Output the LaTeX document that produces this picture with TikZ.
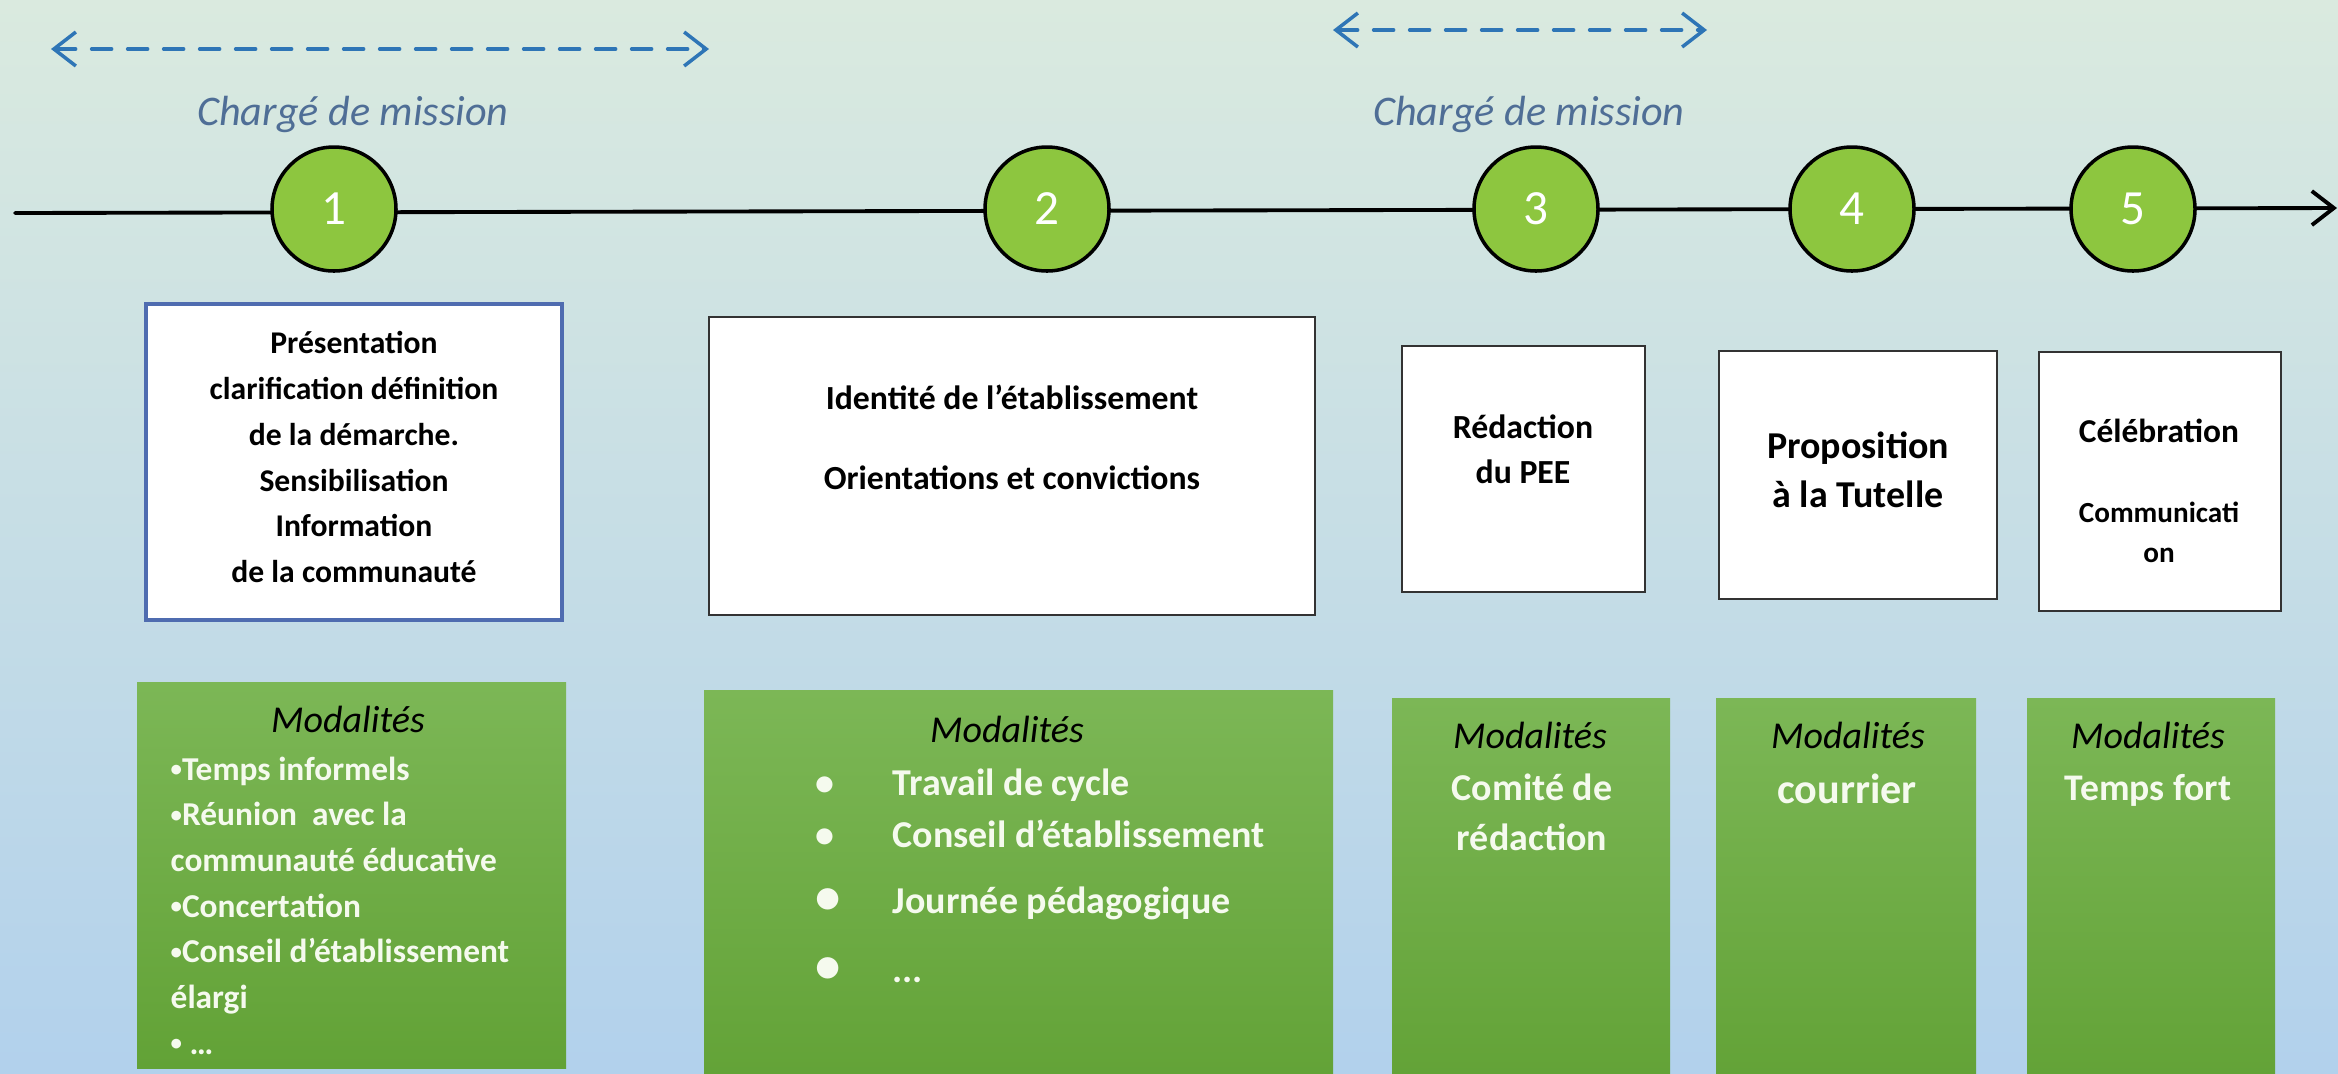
\documentclass[tikz,border=0pt]{standalone}
\usepackage{fontspec}
\setmainfont{Carlito}
\usepackage{tikz}
\usetikzlibrary{calc, arrows.meta}
\usepackage{tkz-euclide}
\definecolor{fondhaut}{RGB}{218,234,223}
\definecolor{fondbas}{RGB}{178,209,236}
\definecolor{vertrond}{RGB}{141,198,63}
\definecolor{verthaut}{RGB}{124,183,86}
\definecolor{vertbas}{RGB}{98,162,54}
\definecolor{bleutrait}{RGB}{46,117,182}
\definecolor{bleutexte}{RGB}{79,110,150}
\definecolor{bleucadre}{RGB}{79,108,176}
\definecolor{blanccasse}{RGB}{245,250,238}
\newcommand{\petitepuce}{\raisebox{1pt}{\fontsize{6.5}{6.5}\selectfont •}}

\begin{document}
\begin{tikzpicture}[
                fleche/.style={bleutrait, line width=1pt, dash pattern=on 2mm off 1.6mm,
                    {Straight Barb[length=2.2mm,width=3.4mm]}-{Straight Barb[length=2.2mm,width=3.4mm]}},
                axe/.style={black, line width=1.1pt, -{Straight Barb[length=2.2mm,width=3.4mm]}},
                titre/.style={anchor=base, text=bleutexte, font=\fontsize{12}{14}\selectfont\itshape},
                etape/.style={circle, draw=black, line width=1pt, fill=vertrond, minimum size=1.24cm,
                    inner sep=0pt, text=white, font=\fontsize{14}{16}\selectfont},
                cadre/.style={draw=black!80, line width=0.8pt, fill=white, inner sep=0pt},
                noir/.style={inner sep=0pt, align=center, text=black},
                vert/.style={top color=verthaut, bottom color=vertbas, draw=none, inner sep=0pt},
                modal/.style={anchor=base, inner sep=0pt, text=black, font=\fontsize{10.8}{13}\selectfont\itshape},
                blanc/.style={inner sep=0pt, text=blanccasse}
            ]
                \useasboundingbox (0,0) rectangle (23.38,-10.73);
                \clip (0,0) rectangle (23.38,-10.73);
                \shade[top color=fondhaut, bottom color=fondbas] (0,0) rectangle (23.38,-10.73);
                \tkzDefPoints{0.51/-0.49/A, 7.09/-0.49/B, 13.33/-0.30/C, 17.07/-0.30/D, 0.15/-2.13/E, 23.37/-2.08/F}
                \tkzDrawSegments[fleche](A,B C,D)
                \node[titre] (cm1) at (3.53,-1.25) {Chargé de mission};
                \node[titre] (cm2) at (15.29,-1.25) {Chargé de mission};
                \tkzDrawSegment[axe](E,F)
                \node[etape] (e1) at (3.34,-2.09) {1};
                \node[etape] (e2) at (10.47,-2.09) {2};
                \node[etape] (e3) at (15.36,-2.09) {3};
                \node[etape] (e4) at (18.52,-2.09) {4};
                \node[etape] (e5) at (21.33,-2.09) {5};
                \node[cadre, draw=bleucadre, line width=1pt, minimum width=4.16cm, minimum height=3.16cm] (b1) at (3.54,-4.62) {};
                \node[cadre, minimum width=6.06cm, minimum height=2.98cm] (b2) at (10.12,-4.66) {};
                \node[cadre, minimum width=2.43cm, minimum height=2.46cm] (b3) at (15.235,-4.69) {};
                \node[cadre, minimum width=2.78cm, minimum height=2.48cm] (b4) at (18.58,-4.75) {};
                \node[cadre, minimum width=2.42cm, minimum height=2.59cm] (b5) at (21.60,-4.815) {};
                \node[noir, anchor=north, font=\fontsize{9}{13}\selectfont\bfseries] (t1) at (3.54,-3.31)
                    {Présentation\\clarification définition\\de la démarche.\\Sensibilisation\\Information\\de la communauté};
                \node[noir, anchor=north, font=\fontsize{9.6}{22.8}\selectfont\bfseries] (t2) at (10.12,-3.84)
                    {Identité de l’établissement\\Orientations et convictions};
                \node[noir, anchor=north, font=\fontsize{9.6}{12.8}\selectfont\bfseries] (t3) at (15.23,-4.14) {Rédaction\\du PEE};
                \node[noir, anchor=north, font=\fontsize{10.8}{14}\selectfont\bfseries] (t4) at (18.58,-4.31) {Proposition\\à la Tutelle};
                \node[noir, anchor=base, font=\fontsize{9.5}{12}\selectfont\bfseries] (t5a) at (21.59,-4.42) {Célébration};
                \node[noir, anchor=north, font=\fontsize{8.3}{11.4}\selectfont\bfseries] (t5b) at (21.59,-5.01) {Communicati\\on};
                \node[vert, minimum width=4.29cm, minimum height=3.86cm] (g1) at (3.515,-8.75) {};
                \node[vert, minimum width=6.29cm, minimum height=4.0cm] (g2) at (10.185,-8.90) {};
                \node[vert, minimum width=2.78cm, minimum height=3.92cm] (g3) at (15.31,-8.94) {};
                \node[vert, minimum width=2.60cm, minimum height=3.92cm] (g4) at (18.46,-8.94) {};
                \node[vert, minimum width=2.48cm, minimum height=3.92cm] (g5) at (21.51,-8.94) {};
                \node[modal] (m1) at (3.48,-7.32) {Modalités};
                \node[modal] (m2) at (10.07,-7.42) {Modalités};
                \node[modal] (m3) at (15.30,-7.48) {Modalités};
                \node[modal] (m4) at (18.48,-7.48) {Modalités};
                \node[modal] (m5) at (21.48,-7.48) {Modalités};
                \node[blanc, anchor=north west, align=left, font=\fontsize{9.5}{13}\selectfont\bfseries] (i1) at (1.70,-7.56)
                    {\petitepuce Temps informels\\\petitepuce Réunion\ \ avec la\\communauté éducative\\\petitepuce Concertation\\\petitepuce Conseil d’établissement\\élargi\\\petitepuce\ …};
                \node[blanc, anchor=north west, align=left, font=\fontsize{10.8}{14.8}\selectfont\bfseries] (i2) at (8.15,-7.68)
                    {\makebox[7.7mm][l]{•}Travail de cycle\\\makebox[7.7mm][l]{•}Conseil d’établissement\\[4pt]\makebox[7.7mm][l]{\Large •}Journée pédagogique\\[4.8pt]\makebox[7.7mm][l]{\Large •}...};
                \node[blanc, anchor=north, align=center, font=\fontsize{10.8}{14.2}\selectfont\bfseries] (i3) at (15.32,-7.73) {Comité de\\rédaction};
                \node[blanc, anchor=base, font=\fontsize{12}{14}\selectfont\bfseries] (i4) at (18.47,-8.03) {courrier};
                \node[blanc, anchor=base, font=\fontsize{10.7}{13}\selectfont\bfseries] (i5) at (21.48,-8.00) {Temps fort};
            \end{tikzpicture}
\end{document}
